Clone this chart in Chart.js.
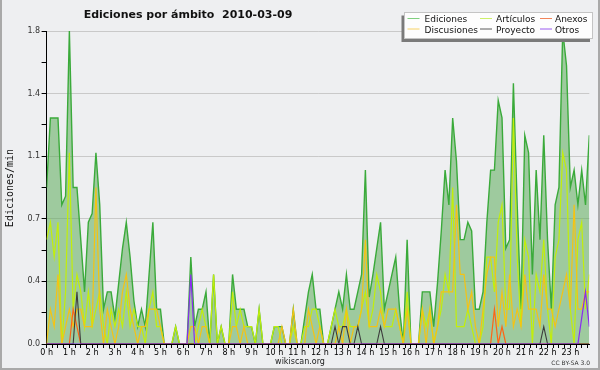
<!DOCTYPE html>
<html><head><meta charset="utf-8">
<script src="https://cdn.jsdelivr.net/npm/chart.js@4.4.0/dist/chart.umd.min.js"></script>
<style>html,body{margin:0;padding:0;background:#eeeff1;}canvas{display:block}</style>
</head><body>
<canvas id="c" width="600" height="370"></canvas>
<script>
const TITLE = 'Ediciones por ámbito  2010-03-09';
const Y_TITLE = 'Ediciones/min';
const HOUR_LABELS = ['0 h','1 h','2 h','3 h','4 h','5 h','6 h','7 h','8 h','9 h','10 h','11 h','12 h','13 h','14 h','15 h','16 h','17 h','18 h','19 h','20 h','21 h','22 h','23 h'];
const Y_TICKS = [0, 0.36, 0.72, 1.08, 1.44, 1.8];
const SERIES_NAMES = ['Ediciones','Artículos','Anexos','Discusiones','Proyecto','Otros'];

// 10-minute bins, edits per minute
const ediciones = [
 0.9,1.3,1.3,1.3,0.8,0.85,  1.8,0.9,0.9,0.6,0.3,0.7,
 0.75,1.1,0.8,0.2,0.3,0.3,  0.15,0.35,0.55,0.7,0.5,0.25,
 0.1,0.2,0.1,0.4,0.7,0.2,   0.2,0,0,0,0.1,0,
 0,0,0.5,0.1,0.2,0.2,       0.3,0,0.4,0,0.1,0,
 0,0.4,0.2,0.2,0.2,0.1,     0.1,0,0.2,0,0,0,
 0.1,0.1,0.1,0,0,0.2,       0,0,0.15,0.3,0.4,0.2,
 0.2,0,0,0.1,0.2,0.3,       0.2,0.4,0.2,0.2,0.3,0.4,
 1.0,0.27,0.4,0.55,0.7,0.2, 0.3,0.4,0.5,0.2,0,0.6,
 0,0,0,0.3,0.3,0.3,         0.1,0.35,0.65,1.0,0.8,1.3,
 1.05,0.6,0.6,0.7,0.65,0.2, 0.2,0.3,0.7,1.0,1.0,1.4,
 1.3,0.55,0.6,1.5,0.8,0.2,  1.2,1.1,0.4,1.0,0.6,1.2,
 0.6,0.2,0.8,0.9,1.8,1.6,   0.9,1.0,0.8,1.0,0.8,1.2
];
const articulos = [
 0.6,0.7,0.5,0.7,0,0.3,     1.1,0.2,0.4,0.3,0.1,0.3,
 0.1,0.2,0.3,0.1,0,0.2,     0.1,0.2,0.1,0.3,0.1,0.2,
 0.1,0.1,0,0.2,0.3,0.1,     0.1,0,0,0,0.1,0,
 0,0,0,0,0.1,0.2,           0.1,0,0.4,0,0.1,0,
 0,0.3,0.1,0.2,0.1,0.1,     0.1,0,0.2,0,0,0,
 0.1,0.1,0,0,0,0.1,         0,0,0.1,0.1,0.2,0.2,
 0.1,0,0,0.1,0.2,0.1,       0.1,0.2,0.1,0.1,0.1,0.2,
 0.3,0.1,0.2,0.4,0.3,0.1,   0.1,0.1,0.2,0.1,0,0.3,
 0,0,0,0.2,0.1,0.2,         0,0.1,0.2,0.4,0.3,0.9,
 0.1,0.1,0.1,0.2,0.1,0,     0,0.1,0.5,0.5,0.3,0.7,
 0.8,0.2,0.2,1.3,0.5,0.1,   0.6,0.5,0,0.4,0.3,0.6,
 0.2,0,0.5,0.6,1.1,1.0,     0.2,0,0.6,0.7,0.2,0.4
];
const discusiones = [
 0,0.2,0.1,0.4,0,0.1,       0.2,0.1,0.2,0.2,0.1,0.1,
 0.1,0.9,0.2,0,0.2,0.1,     0,0.1,0.3,0.4,0.2,0.1,
 0,0.1,0.1,0.2,0.2,0.2,     0.1,0,0,0,0,0,
 0,0,0.1,0.1,0,0.1,         0.1,0,0,0,0,0,
 0,0.1,0.1,0,0.1,0,         0,0,0,0,0,0,
 0,0,0.1,0,0,0.2,           0,0,0,0.2,0.1,0,
 0.1,0,0,0,0,0.1,           0,0.2,0,0.1,0.1,0.2,
 0.6,0.1,0.1,0.1,0.2,0.1,   0.2,0.2,0.2,0.1,0,0.2,
 0,0,0,0.2,0,0.2,           0,0.1,0.3,0.3,0.3,0.3,
 0.8,0.4,0.4,0.2,0.3,0.1,   0,0.2,0.4,0.5,0.5,0.1,
 0.3,0.1,0.4,0.1,0.2,0.1,   0.4,0.2,0.2,0.2,0.1,0.4,
 0.2,0.2,0.1,0.2,0.3,0.4,   0.2,0.8,0.2,0.2,0.3,0.3
];
const anexos = [
 0,0,0,0,0,0,  0,0.2,0.1,0,0,0,  0,0,0,0,0,0,  0,0,0,0,0,0,
 0,0,0,0,0,0,  0,0,0,0,0,0,      0,0,0,0,0,0,  0,0,0,0,0,0,
 0,0,0,0,0,0,  0,0,0,0,0,0,      0,0,0,0,0,0,  0,0,0,0,0,0,
 0,0,0,0,0,0,  0,0,0,0,0,0,      0,0,0,0,0,0,  0,0,0,0,0,0,
 0,0,0,0,0,0,  0,0,0,0,0,0,      0,0,0,0,0,0,  0,0,0,0,0.2,0,
 0.1,0,0,0,0,0, 0,0,0,0,0,0,     0,0,0,0,0,0,  0,0,0,0,0,0
];
const proyecto = [
 0,0,0,0,0,0,  0,0,0.3,0,0,0,    0,0,0,0,0,0,  0,0,0,0,0,0,
 0,0,0,0,0,0,  0,0,0,0,0,0,      0,0,0,0,0,0,  0,0,0,0,0,0,
 0,0,0,0,0,0,  0,0,0,0,0,0,      0,0,0,0,0,0,  0,0,0,0,0,0,
 0,0,0,0,0.1,0, 0.1,0.1,0,0,0.1,0, 0,0,0,0,0.1,0, 0,0,0,0,0,0,
 0,0,0,0,0,0,  0,0,0,0,0,0,      0,0,0,0,0,0,  0,0,0,0,0,0,
 0,0,0,0,0,0,  0,0,0,0,0,0.1,    0,0,0,0,0,0,  0,0,0,0,0,0
];
const otros = [
 0,0,0,0,0,0,  0,0,0,0,0,0,      0,0,0,0,0,0,  0,0,0,0,0,0,
 0,0,0,0,0,0,  0,0,0,0,0,0,      0,0,0.4,0,0,0, 0,0,0,0,0,0,
 0,0,0,0,0,0,  0,0,0,0,0,0,      0,0,0,0,0,0,  0,0,0,0,0,0,
 0,0,0,0,0,0,  0,0,0,0,0,0,      0,0,0,0,0,0,  0,0,0,0,0,0,
 0,0,0,0,0,0,  0,0,0,0,0,0,      0,0,0,0,0,0,  0,0,0,0,0,0,
 0,0,0,0,0,0,  0,0,0,0,0,0,      0,0,0,0,0,0,  0,0,0,0.15,0.3,0.1
];

// category: minute of the day for each 10-minute bin
const minutes = [];
for (let i = 0; i < ediciones.length; i++) minutes.push(i * 10);

const COLORS = {
  Ediciones: '#3aaa3a', 'Artículos': '#c2ee0a', Anexos: '#ff6414',
  Discusiones: '#f4c314', Proyecto: '#3c3c3c', Otros: '#8a2cf0'
};
const LEGEND_COLORS = {
  Ediciones: '#7fcf7f', 'Artículos': '#cdf06a', Anexos: '#f2855a',
  Discusiones: '#f7d264', Proyecto: '#5a5a5a', Otros: '#9a5af0'
};
const BG = '#eeeff1';

const mk = (label, data, order, w) => ({
  label, data, order, borderColor: COLORS[label], borderWidth: w,
  pointRadius: 0, tension: 0, fill: false
});

const datasets = [
  Object.assign(mk('Ediciones', ediciones, 10, 1.4), {fill: 'origin', backgroundColor: 'rgba(92,172,90,0.55)'}),
  mk('Artículos', articulos, 5, 1.2),
  mk('Anexos', anexos, 3, 1.2),
  mk('Discusiones', discusiones, 4, 1.2),
  mk('Proyecto', proyecto, 2, 1.1),
  mk('Otros', otros, 1, 1.2)
];

const deco = {
  id: 'deco',
  beforeDraw(chart) {
    const ctx = chart.ctx;
    ctx.save();
    ctx.fillStyle = BG;
    ctx.fillRect(0, 0, chart.width, chart.height);
    ctx.restore();
  },
  afterDraw(chart) {
    const ctx = chart.ctx;
    ctx.save();
    // title
    ctx.fillStyle = '#111';
    ctx.font = 'bold 11px "DejaVu Sans"';
    ctx.textAlign = 'center';
    ctx.textBaseline = 'alphabetic';
    ctx.fillText(TITLE, 188, 17.5);
    // y title
    ctx.save();
    ctx.translate(12.5, 188);
    ctx.rotate(-Math.PI / 2);
    ctx.font = '10px "DejaVu Sans Mono"';
    ctx.textAlign = 'center';
    ctx.textBaseline = 'alphabetic';
    ctx.fillText(Y_TITLE, 0, 0);
    ctx.restore();
    // footer
    ctx.font = '8px "DejaVu Sans"';
    ctx.fillStyle = '#222';
    ctx.textAlign = 'center';
    ctx.fillText('wikiscan.org', 300, 363.5);
    ctx.font = '6px "DejaVu Sans"';
    ctx.textAlign = 'right';
    ctx.fillStyle = '#333';
    ctx.fillText('CC BY-SA 3.0', 590, 364.5);
    // legend
    ctx.fillStyle = '#7a7a7a';
    ctx.fillRect(401.5, 15.5, 188.5, 26.5);
    ctx.fillStyle = '#fdfdfd';
    ctx.fillRect(404.5, 12.5, 188, 26);
    ctx.strokeStyle = '#c4c4c4';
    ctx.lineWidth = 1;
    ctx.strokeRect(404.5, 12.5, 188, 26);
    const cols = [[407.5, 424.5], [480, 496], [540, 555]];
    const rows = [[18.5, 22.3], [29, 32.5]];
    ctx.font = '9px "DejaVu Sans"';
    ctx.textAlign = 'left';
    SERIES_NAMES.forEach((name, k) => {
      const c = cols[k % 3], r = rows[Math.floor(k / 3)];
      ctx.strokeStyle = LEGEND_COLORS[name];
      ctx.beginPath();
      ctx.moveTo(c[0], r[0]);
      ctx.lineTo(c[0] + 12, r[0]);
      ctx.stroke();
      ctx.fillStyle = '#111';
      ctx.fillText(name, c[1], r[1]);
    });
    // frame
    ctx.fillStyle = '#a9a9a9';
    ctx.fillRect(0, 0, 2, 370);
    ctx.fillRect(598, 0, 2, 370);
    ctx.fillRect(0, 368, 600, 2);
    ctx.restore();
  }
};

new Chart(document.getElementById('c'), {
  type: 'line',
  data: { labels: minutes, datasets },
  options: {
    responsive: false,
    devicePixelRatio: 1,
    animation: false,
    events: [],
    layout: { padding: { top: 31, right: 10.7, left: 0, bottom: 0 } },
    plugins: { legend: { display: false }, title: { display: false }, tooltip: { enabled: false } },
    scales: {
      x: {
        type: 'linear',
        min: 0, max: minutes[minutes.length - 1],
        afterFit(s) { s.height = 26; },
        border: { display: true, color: '#000', width: 1 },
        grid: { drawOnChartArea: false, drawTicks: true, tickLength: 4, tickColor: '#000' },
        ticks: {
          stepSize: 15, autoSkip: false, maxRotation: 0, includeBounds: false,
          padding: 0, color: '#000', font: { family: 'DejaVu Sans', size: 8 },
          callback: (v) => (v % 60 === 0 ? HOUR_LABELS[v / 60] : '')
        }
      },
      y: {
        min: 0, max: 1.8,
        afterFit(s) { s.width = 46.6; },
        border: { display: true, color: '#000', width: 1 },
        grid: {
          drawTicks: true, tickLength: 5, tickColor: '#000',
          color: (c) => (c.index % 2 === 0 && c.index > 0 ? '#c9c9c9' : 'rgba(0,0,0,0)')
        },
        ticks: {
          stepSize: 0.18, padding: 1.5, color: '#333', font: { family: 'DejaVu Sans', size: 8 },
          callback: (v, i) => (i % 2 === 0 ? Y_TICKS[i / 2].toFixed(1) : '')
        }
      }
    }
  },
  plugins: [deco]
});
</script>
</body></html>
